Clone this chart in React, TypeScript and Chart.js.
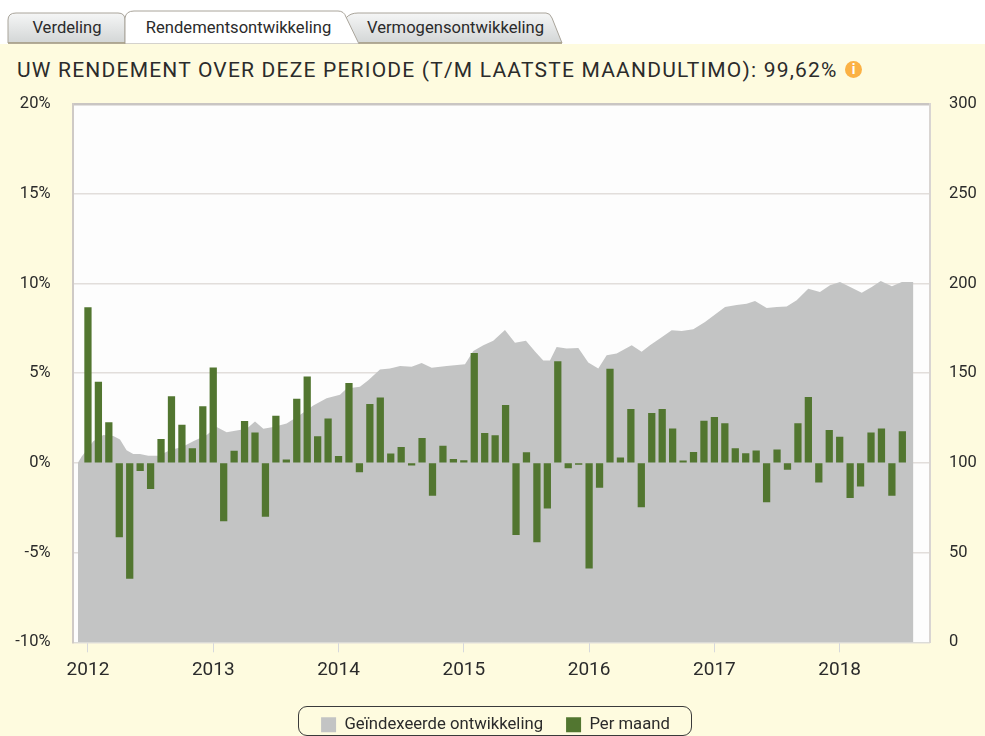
import React, { useEffect, useRef } from "react";
import { Chart, registerables } from "chart.js";

Chart.register(...registerables);

const FONT = "Roboto, sans-serif";
const INK = "#2b2b2b";

// Month offsets count from January 2012 (0 = Jan 2012, 12 = Jan 2013, ...)
const monthlyReturns = [
  8.65, 4.5, 2.24, -4.13, -6.44, -0.43, -1.44, 1.31, 3.7, 2.11, 0.8, 3.13,
  5.3, -3.24, 0.65, 2.31, 1.67, -2.98, 2.61, 0.17, 3.56, 4.8, 1.46, 2.46,
  0.37, 4.43, -0.5, 3.26, 3.63, 0.5, 0.87, -0.13, 1.37, -1.81, 0.94, 0.2,
  0.13, 6.1, 1.65, 1.52, 3.2, -4.0, 0.57, -4.41, -2.52, 5.65, -0.28, -0.08,
  -5.87, -1.37, 5.22, 0.28, 2.98, -2.46, 2.76, 2.98, 1.89, 0.12, 0.59, 2.33,
  2.54, 2.19, 0.8, 0.52, 0.67, -2.17, 0.72, -0.37, 2.19, 3.65, -1.07, 1.81,
  1.44, -1.94, -1.3, 1.67, 1.89, -1.81, 1.74,
];

const indexMonths = [
  -0.96, -0.6, 0, 0.51, 1.47, 2.43, 3.07, 3.7, 4.34, 4.98, 5.78, 6.74, 7.85, 9.07, 10.09, 11.37,
  12.33, 13.28, 14.24, 15.2, 16, 16.8, 17.75, 19.03, 20.3, 21.58, 22.86, 24.14, 24.78, 26.05, 26.85, 27.97,
  28.93, 29.89, 31, 31.96, 32.92, 34.36, 36.11, 36.91, 37.87, 38.82, 39.94, 40.9, 41.95, 42.82, 43.61, 44.25,
  44.89, 45.85, 46.97, 47.92, 48.88, 49.68, 50.64, 52.08, 53.03, 53.83, 54.95, 55.91, 56.87, 57.98, 59.1, 59.9,
  61.02, 62.13, 63.09, 63.89, 65.01, 65.97, 66.92, 67.88, 68.99, 70.11, 71.07, 72.03, 73.15, 74.11, 75.07, 75.93,
  77, 77.95, 79.06,
];
const indexValues = [
  100, 103.5, 108, 112, 115.5, 115, 113, 107, 105, 105, 104, 104, 107, 109, 112, 115.5,
  120, 117, 118, 119, 123, 119, 120, 122, 126.7, 132, 136, 138, 141.5, 142.4, 146, 152,
  152.6, 154, 153.5, 155.7, 153, 154, 155, 162.4, 165.5, 168, 174, 167, 168, 162, 157, 157,
  164.6, 163.7, 164, 156, 152.6, 160, 161, 165.5, 161.9, 165.6, 170, 173.9, 173.5, 174.5, 178.5, 182,
  186.9, 188, 188.7, 190.2, 186.3, 186.9, 187.2, 190.6, 197, 195.2, 199, 200.8, 197.6, 194.8, 198, 201.3,
  198.4, 200.8, 200.8,
];

const yearStart = 2012;
const tabLabels = ["Verdeling", "Rendementsontwikkeling", "Vermogensontwikkeling"];
const seriesNames = ["Geïndexeerde ontwikkeling", "Per maand"];
const titleText = "UW RENDEMENT OVER DEZE PERIODE (T/M LAATSTE MAANDULTIMO): 99,62%";

const plotBackground = {
  id: "plotBackground",
  beforeDraw(chart: any) {
    const { ctx, chartArea: a } = chart;
    ctx.save();
    ctx.fillStyle = "#fdfdfd";
    ctx.fillRect(a.left, a.top, a.right - a.left, a.bottom - a.top);
    ctx.restore();
  },
};

function Tabs() {
  return (
    <svg width={600} height={44} style={{ position: "absolute", left: 0, top: 0 }}>
      <defs>
        <linearGradient id="tabGrey" x1="0" y1="0" x2="0" y2="1">
          <stop offset="0" stopColor="#f5f6f6" />
          <stop offset="1" stopColor="#d3d6d6" />
        </linearGradient>
      </defs>
      <path d="M8 43 V20 Q8 13 16 13 H118 Q125 13 125 20 V43 Z" fill="url(#tabGrey)" stroke="#a9a49a" strokeWidth="1" />
      <path d="M352 43 L346 18 Q350 13 358 13 H546 Q550 13 552 18 L562 43 Z" fill="url(#tabGrey)" stroke="#a9a49a" strokeWidth="1" />
      <path d="M125 44 V18 Q126 11 134 11 H338 Q344 11 346 17 L359 44 Z" fill="#ffffff" stroke="#a9a49a" strokeWidth="1" />
      <path d="M8 43 H125 M359 43 H562" stroke="#a89f85" strokeWidth="1.5" />
      <g fontFamily={FONT} fontSize={16.6} fill={INK}>
        <text x={67} y={32.5} textAnchor="middle">{tabLabels[0]}</text>
        <text x={238.5} y={32.5} textAnchor="middle">{tabLabels[1]}</text>
        <text x={455.5} y={32.5} textAnchor="middle">{tabLabels[2]}</text>
      </g>
    </svg>
  );
}

export default function App() {
  const ref = useRef<HTMLCanvasElement>(null);

  useEffect(() => {
    const chart = new Chart(ref.current!, {
      type: "bar",
      plugins: [plotBackground],
      data: {
        datasets: [
          {
            type: "line",
            label: seriesNames[0],
            data: indexMonths.map((m, i) => ({ x: m, y: indexValues[i] })),
            yAxisID: "y1",
            xAxisID: "x",
            backgroundColor: "#c3c4c4",
            borderColor: "#c3c4c4",
            borderWidth: 0,
            pointRadius: 0,
            fill: "start",
            tension: 0,
            order: 2,
          },
          {
            type: "bar",
            label: seriesNames[1],
            data: monthlyReturns.map((v, i) => ({ x: i, y: v })),
            yAxisID: "y",
            xAxisID: "x",
            backgroundColor: "#527630",
            barThickness: 6.6,
            order: 1,
          },
        ],
      } as any,
      options: {
        animation: false,
        responsive: false,
        layout: { padding: { top: 104, left: 6, right: 0, bottom: 0 } },
        plugins: {
          tooltip: { enabled: false },
          legend: {
            position: "bottom",
            labels: {
              color: INK,
              font: { family: FONT, size: 16.7 },
              boxWidth: 15,
              boxHeight: 15,
              padding: 23,
              sort: (a: any, b: any) => a.datasetIndex - b.datasetIndex,
            },
          },
        },
        scales: {
          x: {
            type: "linear",
            min: -1.48,
            max: 80.65,
            offset: false,
            afterFit: (s: any) => { s.height = 51; },
            border: { display: true, color: "#dcdcd8", width: 1 },
            grid: { offset: false, drawOnChartArea: false, drawTicks: true, tickLength: 10, tickColor: "#d6d8dc", tickWidth: 1 },
            ticks: {
              stepSize: 12,
              includeBounds: false,
              autoSkip: false,
              maxRotation: 0,
              padding: 7,
              color: INK,
              font: { family: FONT, size: 19 },
              callback: (v: any) => String(yearStart + Number(v) / 12),
            },
          },
          y: {
            type: "linear",
            position: "left",
            min: -10,
            max: 20,
            afterFit: (s: any) => { s.width = 66.5; },
            border: { display: true, color: "#cfcac6", width: 2 },
            grid: {
              color: (c: any) => (c.tick.value === 20 ? "#c9c5c3" : "#e2dedb"),
              lineWidth: (c: any) => (c.tick.value === 20 ? 2.5 : 1.5),
              drawTicks: false,
            },
            ticks: {
              stepSize: 5,
              padding: 22,
              color: INK,
              font: { family: FONT, size: 16.5 },
              callback: (v: any) => `${v}%`,
            },
          },
          y1: {
            type: "linear",
            position: "right",
            min: 0,
            max: 300,
            afterFit: (s: any) => { s.width = 55; },
            border: { display: true, color: "#d9d5d2", width: 2 },
            grid: { drawOnChartArea: false, drawTicks: false },
            ticks: {
              stepSize: 50,
              padding: 19,
              color: INK,
              font: { family: FONT, size: 16.5 },
            },
          },
        },
      } as any,
    });
    return () => chart.destroy();
  }, []);

  return (
    <div style={{ position: "absolute", left: 0, top: 0, width: 985, height: 736, overflow: "hidden", background: "#ffffff" }}>
      <div style={{ position: "absolute", left: 0, top: 44, width: 985, height: 692, background: "#fefbdf" }} />
      <Tabs />
      <div
        style={{
          position: "absolute",
          left: 17,
          top: 57,
          fontFamily: FONT,
          fontSize: 21,
          letterSpacing: "1.2px",
          color: INK,
          whiteSpace: "nowrap",
          lineHeight: "26px",
        }}
      >
        {titleText}
      </div>
      <div
        style={{
          position: "absolute",
          left: 845,
          top: 61,
          width: 17,
          height: 17,
          borderRadius: "50%",
          background: "#fbb144",
          color: "#ffffff",
          fontFamily: FONT,
          fontWeight: 700,
          fontSize: 14,
          lineHeight: "17px",
          textAlign: "center",
        }}
      >
        i
      </div>
      <div
        style={{
          position: "absolute",
          left: 298,
          top: 706,
          width: 394,
          height: 29.5,
          border: "1px solid #3a3a3a",
          borderRadius: 9,
          boxSizing: "border-box",
        }}
      />
      <canvas ref={ref} width={985} height={743} style={{ position: "absolute", left: 0, top: 0, display: "block" }} />
    </div>
  );
}
